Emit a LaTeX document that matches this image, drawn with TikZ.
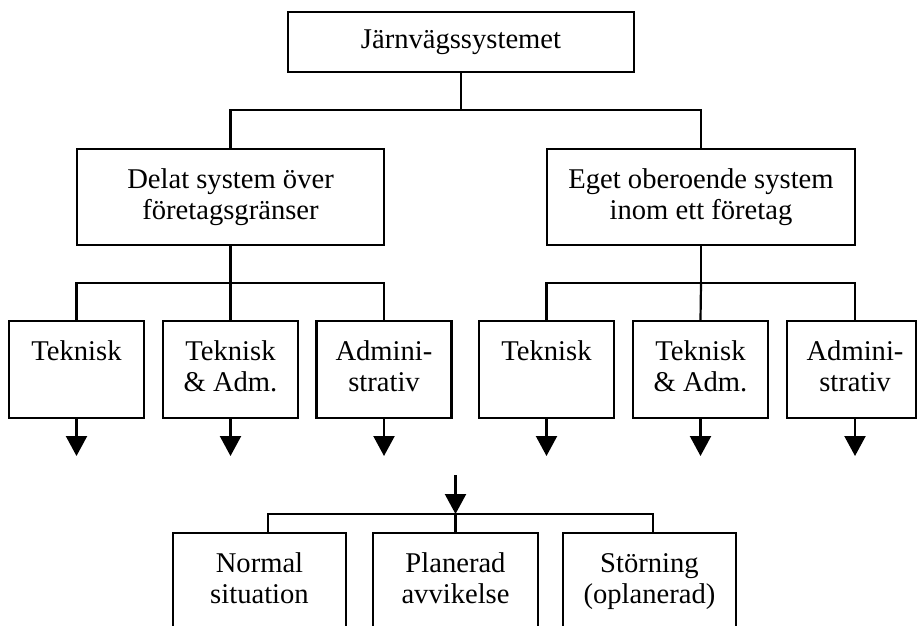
\documentclass[tikz,border=0pt]{standalone}
\usepackage{fontspec}
\setmainfont{Liberation Serif}
\usetikzlibrary{arrows.meta,calc}
\begin{document}
\begin{tikzpicture}[x=1pt,y=-1pt,
  every node/.style={font=\fontsize{28.6}{31}\selectfont, align=center, inner sep=0pt},
  ln/.style={line width=2.2pt, line cap=rect},
  box/.style={draw, line width=2.2pt, rectangle},
  midbox/.style={box, minimum width=307pt, minimum height=96pt},
  leafbox/.style={box, minimum width=135pt, minimum height=97pt},
  openbox/.style={rectangle, minimum height=97pt},
  arr/.style={line width=2.2pt, -{Triangle[width=21pt,length=20pt]}}]
\useasboundingbox (0,0) rectangle (917,625);

% top
\node[box, minimum width=346pt, minimum height=60pt] (top) at (461,42) {Järnvägssystemet};

% second row
\node[midbox] (del) at (230.5,197) {Delat system över\\företagsgränser};
\node[midbox, minimum width=308pt] (ege) at (701,197) {Eget oberoende system\\inom ett företag};

\coordinate (j1) at (461,110);
\draw[ln] (top.south) -- (j1);
\draw[ln] (del.north) |- (j1) -| (ege.north);

% third row, left
\node[leafbox] (l1) at (76.5,369.5) {Teknisk\strut\\\strut};
\node[leafbox] (l2) at (230.5,369.5) {Teknisk\strut\\\& Adm.\strut};
\node[leafbox] (l3) at (384,369.5) {Admini-\strut\\strativ\strut};

\coordinate (j2) at (230.5,283);
\draw[ln] (del.south) -- (j2);
\draw[ln] (l1.north) |- (j2) -| (l3.north);
\draw[ln] (j2) -- (l2.north);

% third row, right
\node[leafbox] (r1) at (546.5,369.5) {Teknisk\strut\\\strut};
\node[leafbox] (r2) at (700.5,369.5) {Teknisk\strut\\\& Adm.\strut};
\node[openbox, minimum width=135pt] (r3) at (855,369.5) {Admini-\strut\\strativ\strut};
\coordinate (r3se) at (916,418);
\draw[ln] (r3.north west) rectangle (r3se);

\coordinate (j3) at (701,283);
\draw[ln] (ege.south) -- (j3);
\draw[ln] (r1.north) |- (j3) -| (r3.north);
\draw[ln] (j3) -- (r2.north);

% arrows below third row
\coordinate (arrowrow) at (0,456);
\foreach \n in {l1,l2,l3,r1,r2,r3}{
  \draw[arr] (\n.south) -- (\n.south |- arrowrow);
}

% bottom row
\node[openbox, minimum width=173pt] (b1) at (259.5,581.5) {Normal\strut\\situation\strut};
\node[openbox, minimum width=165pt] (b2) at (455.5,581.5) {Planerad\strut\\avvikelse\strut};
\node[openbox, minimum width=173pt] (b3) at (649.5,581.5) {Störning\strut\\(oplanerad)\strut};
\foreach \n in {b1,b2,b3}{
  \draw[ln] (\n.south west) -- (\n.north west) -- (\n.north east) -- (\n.south east);
}

\coordinate (lin) at (455.5,475);
\coordinate (lj) at (455.5,514);
\coordinate (v1) at (268,533);
\coordinate (v3) at (653,533);
\draw[arr] (lin) -- (lj);
\draw[ln] (v1) |- (lj) -| (v3);
\draw[ln] (lj) -- (b2.north);
\end{tikzpicture}
\end{document}
